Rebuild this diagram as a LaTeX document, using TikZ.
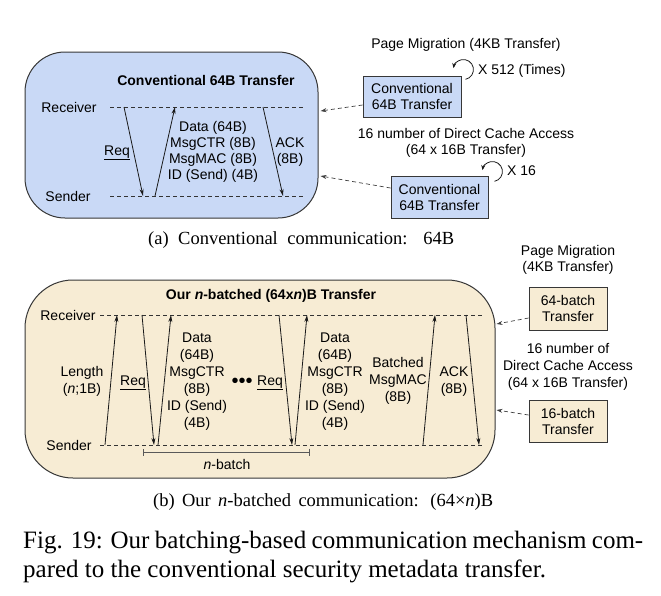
\documentclass[tikz,border=0pt]{standalone}
\usepackage{fontspec}
\setmainfont{Liberation Serif}
\newfontfamily\sansf{Liberation Sans}
\usetikzlibrary{arrows.meta,calc}
\definecolor{panelblue}{RGB}{201,217,246}
\definecolor{panelbeige}{RGB}{247,236,212}
\definecolor{edgegray}{RGB}{55,55,55}
\tikzset{
  lbl/.style={font=\sansf\fontsize{14}{16}\selectfont, inner sep=0pt, align=center, text=black},
  lblb/.style={font=\sansf\fontsize{14}{17}\selectfont, inner sep=0pt, align=center, text=black},
  ttl/.style={font=\sansf\bfseries\fontsize{14}{16}\selectfont, inner sep=0pt},
  panel/.style={draw=edgegray, line width=1pt, inner sep=0pt},
  msg/.style={-{Stealth[length=7pt,width=4pt]}, line width=0.8pt, draw=black!90},
  lifeline/.style={dash pattern=on 4pt off 3pt, line width=0.7pt, draw=black!80},
  link/.style={dash pattern=on 4pt off 3pt, line width=0.7pt, draw=black!75, -{Stealth[length=6pt,width=4pt]}},
  loopar/.style={line width=0.8pt, draw=black!90, -{Stealth[length=5pt,width=4pt]}},
  sbox/.style={draw=edgegray, line width=0.9pt, font=\sansf\fontsize{14}{16}\selectfont, align=center, inner sep=0pt},
  capt/.style={font=\fontsize{18.5}{22}\selectfont, inner sep=0pt, anchor=base west},
  figcapt/.style={font=\fontsize{25}{29}\selectfont, inner sep=0pt, anchor=base west},
}
\begin{document}
\begin{tikzpicture}[x=1pt,y=-1pt]
\useasboundingbox[fill=white] (0,0) rectangle (661,595);

% ===== (a) conventional =====
\node[panel, fill=panelblue, rounded corners=40pt, minimum width=293pt, minimum height=166pt] (panelA) at (171.5,135) {};
\node[ttl] (titleA) at (206,80) {Conventional 64B Transfer};
\node[lbl] (recvA) at (69,107) {Receiver};
\node[lbl] (sendA) at (68,196) {Sender};
\coordinate (rA1) at (110,107); \coordinate (rA2) at (305,107);
\coordinate (sA1) at (110,196); \coordinate (sA2) at (305,196);
\draw[lifeline] (rA1) -- (rA2);
\draw[lifeline] (sA1) -- (sA2);
\coordinate (reqAs) at (124,107); \coordinate (reqAe) at (143,196);
\coordinate (datAs) at (155,196); \coordinate (datAe) at (175,107);
\coordinate (ackAs) at (263,107); \coordinate (ackAe) at (283,196);
\draw[msg] (reqAs) -- (reqAe);
\draw[msg] (datAs) -- (datAe);
\draw[msg] (ackAs) -- (ackAe);
\node[lbl] (reqA) at (117,153) {\underline{Req}};
\node[lbl] (dataA) at (213,152) {Data (64B)\\MsgCTR (8B)\\MsgMAC (8B)\\ID (Send) (4B)};
\node[lbl] (ackA) at (290,152) {ACK\\(8B)};

\node[lbl] (pmA) at (466,45) {Page Migration (4KB Transfer)};
\node[sbox, fill=panelblue, minimum width=98pt, minimum height=41pt] (boxA1) at (412,96.5) {Conventional\\64B Transfer};
\coordinate (loopA1) at ($(boxA1.north east)+(2,-6)$);
\draw[loopar] (loopA1) ++(78:10) arc[start angle=78, end angle=-172, radius=10];
\node[lbl, anchor=west] (timesA1) at (478,71) {X 512 (Times)};
\node[lbl] (dcaA) at (466,143) {16 number of Direct Cache Access\\(64 x 16B Transfer)};
\node[sbox, fill=panelblue, minimum width=97pt, minimum height=42pt] (boxA2) at (439.5,197) {Conventional\\64B Transfer};
\coordinate (loopA2) at ($(boxA2.north east)+(4,-4)$);
\draw[loopar] (loopA2) ++(78:10) arc[start angle=78, end angle=-172, radius=10];
\node[lbl, anchor=west] (timesA2) at (507,171) {X 16};
\draw[link] ([yshift=-8.5pt]boxA1.west) -- ([shift={(2pt,24pt)}]panelA.east);
\draw[link] ([yshift=9pt]boxA2.west) -- ([shift={(2pt,-41pt)}]panelA.east);

\node[capt] (capA) at (148,244) {\makebox[306pt][s]{(a) Conventional communication: 64B}};

% ===== (b) batched =====
\node[panel, fill=panelbeige, rounded corners=48pt, minimum width=470pt, minimum height=198pt] (panelB) at (260,379) {};
\node[ttl] (titleB) at (271,296) {Our \textit{n}-batched (64x\textit{n})B Transfer};
\node[lbl] (recvB) at (68,315) {Receiver};
\node[lbl] (sendB) at (69,445) {Sender};
\coordinate (rB1) at (100,315); \coordinate (rB2) at (482,315);
\coordinate (sB1) at (100,445); \coordinate (sB2) at (482,445);
\draw[lifeline] (rB1) -- (rB2);
\draw[lifeline] (sB1) -- (sB2);
\coordinate (lenBs) at (105,445); \coordinate (lenBe) at (117,315);
\coordinate (rq1s) at (142,315); \coordinate (rq1e) at (154,445);
\coordinate (dt1s) at (158,445); \coordinate (dt1e) at (171,315);
\coordinate (rq2s) at (279,315); \coordinate (rq2e) at (292,445);
\coordinate (dt2s) at (295,445); \coordinate (dt2e) at (307,315);
\coordinate (macs) at (423,445); \coordinate (mace) at (435,315);
\coordinate (ackBs) at (466,315); \coordinate (ackBe) at (479,445);
\draw[msg] (lenBs) -- (lenBe);
\draw[msg] (rq1s) -- (rq1e);
\draw[msg] (dt1s) -- (dt1e);
\draw[msg] (rq2s) -- (rq2e);
\draw[msg] (dt2s) -- (dt2e);
\draw[msg] (macs) -- (mace);
\draw[msg] (ackBs) -- (ackBe);
\node[lblb] (lenB) at (82,381) {Length\\(\textit{n};1B)};
\node[lbl] (req1B) at (133,383) {\underline{Req}};
\node[lblb] (data1B) at (197,381.5) {Data\\(64B)\\MsgCTR\\(8B)\\ID (Send)\\(4B)};
\node[lbl, font=\sansf\fontsize{20}{20}\selectfont] (dotsB) at (242,383) {•••};
\node[lbl] (req2B) at (270,383) {\underline{Req}};
\node[lblb] (data2B) at (335,381.5) {Data\\(64B)\\MsgCTR\\(8B)\\ID (Send)\\(4B)};
\node[lblb] (macB) at (398,381) {Batched\\MsgMAC\\(8B)};
\node[lblb] (ackB) at (454,382) {ACK\\(8B)};
\coordinate (nbL) at (143,452); \coordinate (nbR) at (310,452);
\draw[line width=0.8pt, draw=black!65, {Bar[width=7pt]}-{Bar[width=7pt]}] (nbL) -- (nbR);
\node[lbl] (nbB) at (227,464) {\textit{n}-batch};

\node[lbl] (pmB) at (568,260) {Page Migration\\(4KB Transfer)};
\node[sbox, fill=panelbeige, minimum width=78pt, minimum height=43pt] (boxB1) at (568,308.5) {64-batch\\Transfer};
\node[lblb] (dcaB) at (568,367) {16 number of\\Direct Cache Access\\(64 x 16B Transfer)};
\node[sbox, fill=panelbeige, minimum width=78pt, minimum height=42pt] (boxB2) at (568,421) {16-batch\\Transfer};
\draw[link] ([yshift=-9.5pt]boxB1.west) -- ([shift={(1pt,55pt)}]panelB.east);
\draw[link] ([yshift=6pt]boxB2.west) -- ([shift={(1pt,-31pt)}]panelB.east);

\node[capt] (capB) at (153,506) {\makebox[340pt][s]{(b) Our \textit{n}-batched communication: (64×\textit{n})B}};

% ===== figure caption =====
\node[figcapt] (fig1) at (23,548) {\makebox[620pt][s]{Fig. 19: Our batching-based communication mechanism com-}};
\node[figcapt] (fig2) at (23,577) {pared to the conventional security metadata transfer.};
\end{tikzpicture}
\end{document}
